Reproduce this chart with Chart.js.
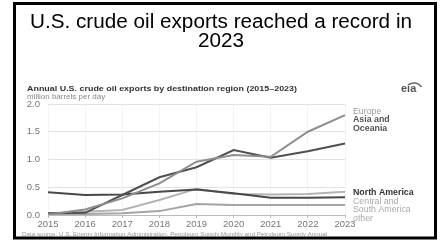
<!DOCTYPE html>
<html>
<head>
<meta charset="utf-8">
<script src="https://cdn.jsdelivr.net/npm/chart.js@4.4.1/dist/chart.umd.min.js"></script>
<style>
html, body { margin: 0; padding: 0; background: #fff; }
</style>
</head>
<body>
<canvas id="myChart" width="443" height="242"></canvas>
<script>
var years = ['2015', '2016', '2017', '2018', '2019', '2020', '2021', '2022', '2023'];
var europe = [0.01, 0.10, 0.30, 0.57, 0.96, 1.08, 1.05, 1.50, 1.80];
var asiaOceania = [0.03, 0.04, 0.36, 0.68, 0.86, 1.17, 1.03, 1.15, 1.29];
var northAmerica = [0.41, 0.36, 0.37, 0.42, 0.46, 0.39, 0.31, 0.31, 0.32];
var centralSouthAmerica = [0.03, 0.06, 0.09, 0.27, 0.47, 0.38, 0.37, 0.38, 0.42];
var other = [0.01, 0.02, 0.03, 0.07, 0.20, 0.18, 0.18, 0.18, 0.18];
var yTicks = [0, 0.5, 1.0, 1.5, 2.0];

var font = '"Liberation Sans", Arial, sans-serif';

// draw text squeezed/stretched to a given width
function fitText(c, txt, x, y, w) {
    var m = c.measureText(txt).width;
    c.save();
    c.translate(x, y);
    c.scale(w / m, 1);
    c.fillText(txt, 0, 0);
    c.restore();
}

// frame, headings, end labels and source line drawn on the canvas
var decor = {
    id: 'decor',
    beforeDraw: function(chart) {
        var c = chart.ctx;
        c.save();
        c.fillStyle = '#fff';
        c.fillRect(0, 0, chart.width, chart.height);
        c.restore();
    },
    afterDraw: function(chart) {
        var c = chart.ctx;
        c.save();

        c.strokeStyle = '#000';
        c.lineWidth = 3;
        c.strokeRect(14.5, 3.5, 421, 234.5);

        c.fillStyle = '#000';
        c.textAlign = 'left';
        c.font = '19.5px ' + font;
        var t1 = 'U.S. crude oil exports reached a record in';
        var k = 382 / c.measureText(t1).width;
        fitText(c, t1, 30, 28, 382);
        var w2 = c.measureText('2023').width * k;
        fitText(c, '2023', 221 - w2 / 2, 46.5, w2);

        c.fillStyle = '#333';
        c.font = 'bold 8px ' + font;
        fitText(c, 'Annual U.S. crude oil exports by destination region (2015\u20132023)', 27, 91, 270);
        c.fillStyle = '#888';
        c.font = '8px ' + font;
        c.fillText('million barrels per day', 27, 98.5);

        // eia logo
        c.fillStyle = '#555';
        c.font = 'bold 11px ' + font;
        c.fillText('eia', 401, 92);
        c.strokeStyle = '#666';
        c.lineWidth = 1.5;
        c.beginPath();
        c.arc(414, 92, 9, -2.2, -0.6);
        c.stroke();

        var lx = 353;
        c.font = '8.8px ' + font;
        c.fillStyle = '#999';
        c.fillText('Europe', lx, 113.5);
        c.font = 'bold 8.8px ' + font;
        c.fillStyle = '#555';
        c.fillText('Asia and', lx, 122);
        c.fillText('Oceania', lx, 130.5);
        c.fillStyle = '#333';
        c.fillText('North America', lx, 195);
        c.font = '8.8px ' + font;
        c.fillStyle = '#aaa';
        c.fillText('Central and', lx, 203.5);
        c.fillText('South America', lx, 212);
        c.fillText('other', lx, 220.5);

        c.font = '6px ' + font;
        c.fillStyle = '#999';
        fitText(c, 'Data source: U.S. Energy Information Administration, Petroleum Supply Monthly and Petroleum Supply Annual', 22, 235.5, 305);
        c.restore();
    }
};

var ctx = document.getElementById('myChart').getContext('2d');
var myChart = new Chart(ctx, {
    type: 'line',
    data: {
        labels: years,
        datasets: [
            { label: 'Europe', data: europe, borderColor: '#8e8e8e' },
            { label: 'Asia and Oceania', data: asiaOceania, borderColor: '#505050' },
            { label: 'North America', data: northAmerica, borderColor: '#484848' },
            { label: 'Central and South America', data: centralSouthAmerica, borderColor: '#b4b4b4' },
            { label: 'other', data: other, borderColor: '#a4a4a4' }
        ]
    },
    options: {
        responsive: false,
        animation: false,
        layout: {
            padding: { top: 104, left: 20, right: 98, bottom: 12 }
        },
        elements: {
            point: { radius: 0 },
            line: { borderWidth: 2, tension: 0 }
        },
        plugins: {
            legend: { display: false },
            tooltip: { enabled: false }
        },
        scales: {
            x: {
                grid: { color: '#f3f3f3', drawTicks: true, tickLength: 3, tickColor: '#bbb' },
                border: { color: '#bbb' },
                ticks: { color: '#777', font: { family: font, size: 9.5 }, padding: 1, maxRotation: 0 },
                afterFit: function(s) { s.height = 15; }
            },
            y: {
                min: 0,
                max: 2,
                afterBuildTicks: function(s) { s.ticks = yTicks.map(function(v) { return { value: v }; }); },
                grid: { color: '#e2e2e2', drawTicks: false },
                border: { display: false },
                ticks: {
                    color: '#777',
                    font: { family: font, size: 9.5 },
                    padding: 8,
                    callback: function(v) { return v.toFixed(1); }
                },
                afterFit: function(s) { s.width = 28; }
            }
        }
    },
    plugins: [decor]
});
</script>
</body>
</html>
